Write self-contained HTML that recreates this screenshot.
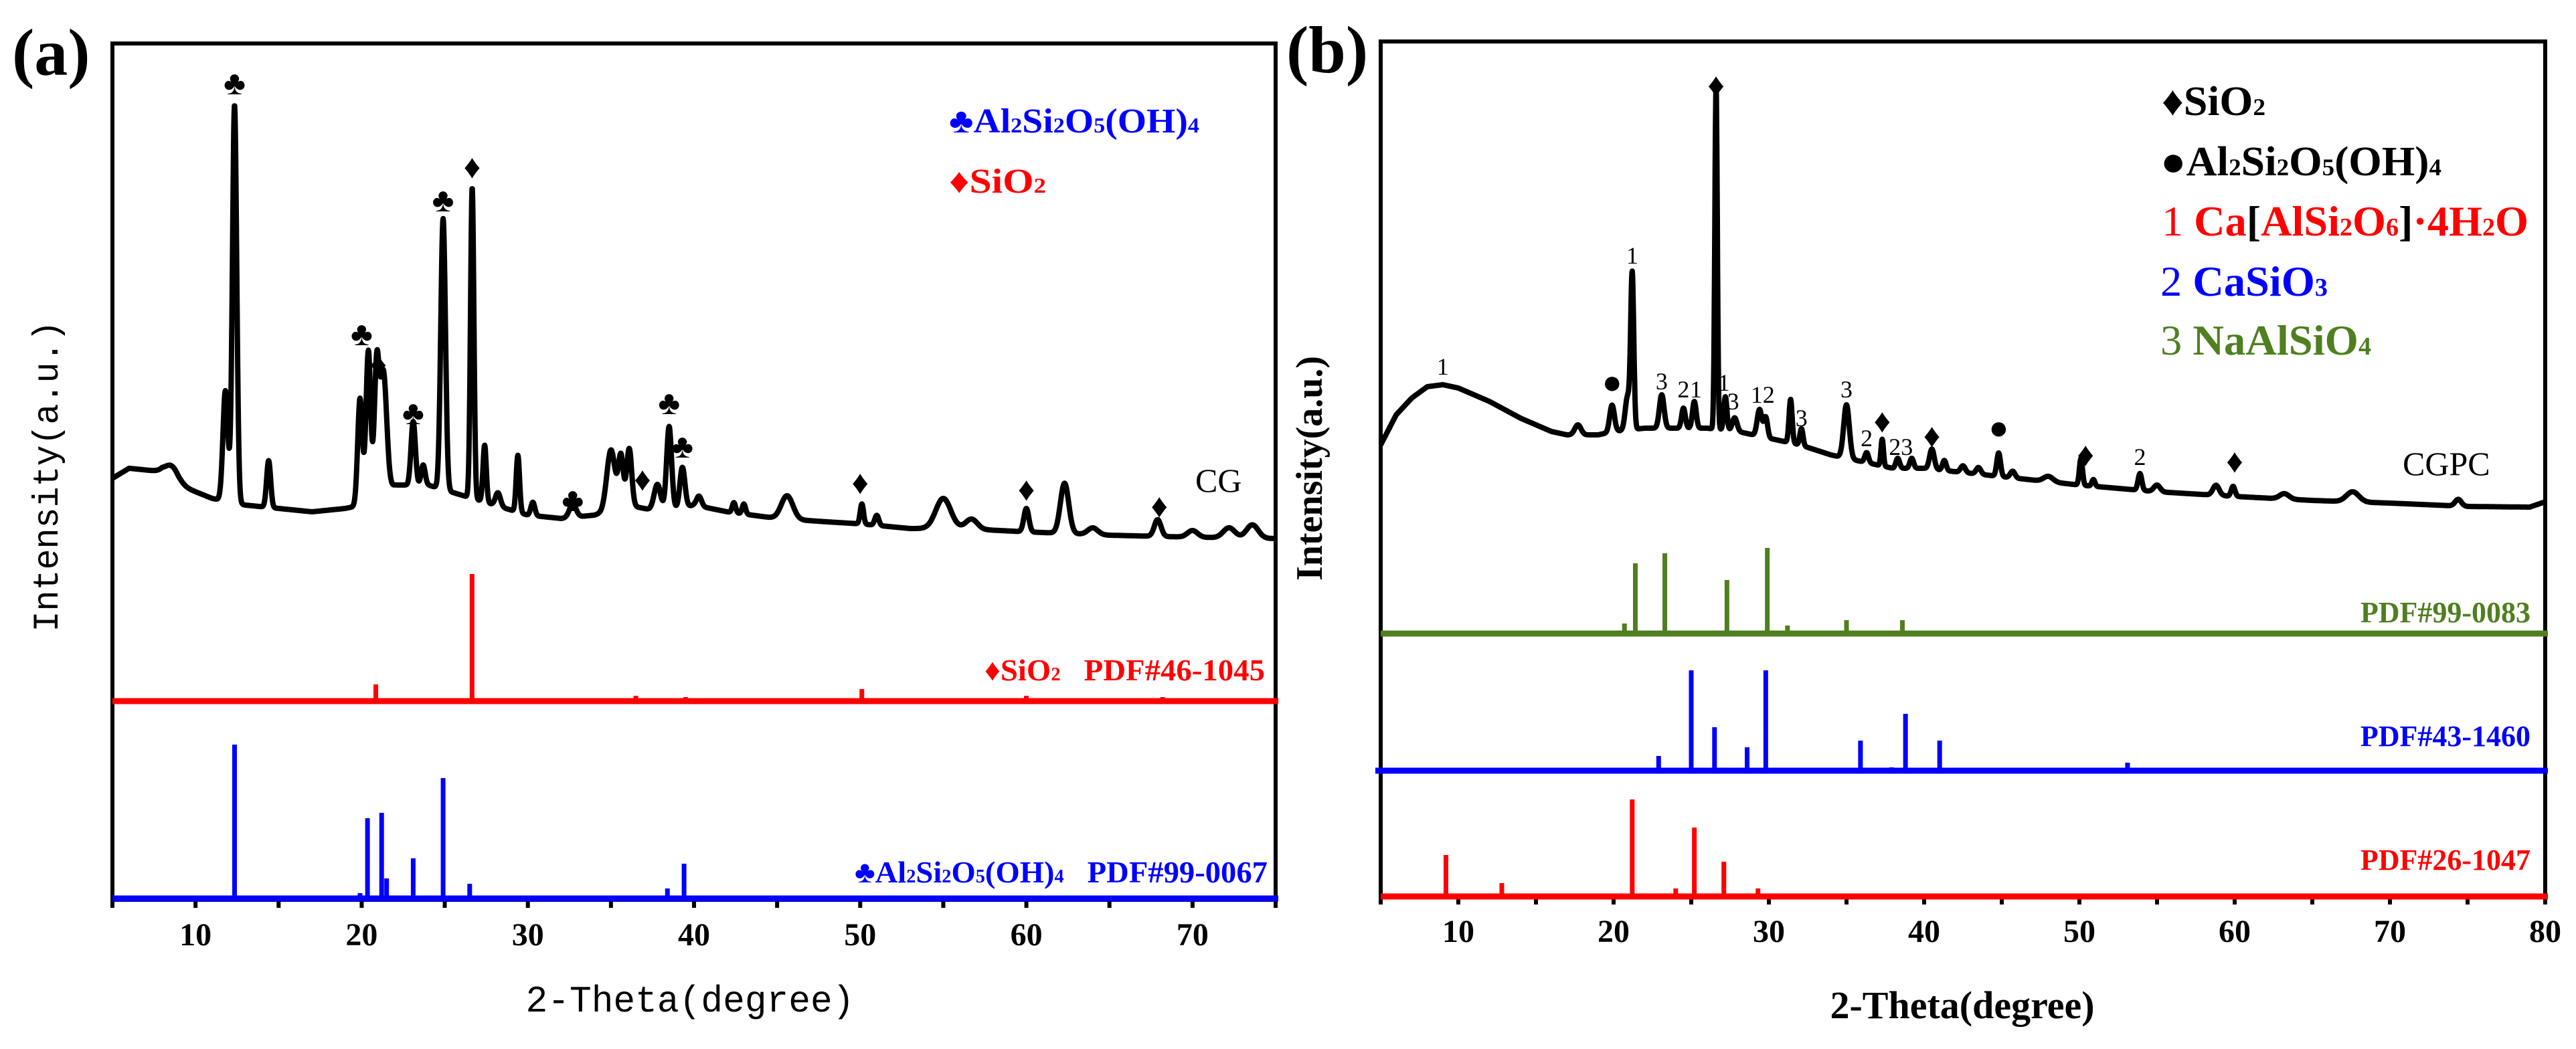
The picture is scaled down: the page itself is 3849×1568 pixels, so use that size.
<!DOCTYPE html>
<html><head><meta charset="utf-8"><style>
html,body{margin:0;padding:0;background:#fff;}
svg{display:block;}
.tk{font-family:"Liberation Serif",serif;font-weight:bold;font-size:48px;}
.bs{font-family:"Liberation Serif",serif;font-weight:bold;}
.sr{font-family:"Liberation Serif",serif;}
.mono{font-family:"Liberation Mono",monospace;}
text{white-space:pre;}
</style></head><body>
<svg id="fig" width="3849" height="1568" viewBox="0 0 3849 1568" xmlns="http://www.w3.org/2000/svg" xml:space="preserve">
<g id="pa"></g>
<g id="pb"></g>
<text x="18" y="112" class="bs" font-size="100">(a)</text>
<text x="1418" y="198" class="bs" font-size="52" fill="#0000ff" textLength="374" lengthAdjust="spacingAndGlyphs">♣Al<tspan font-size="32">2</tspan>Si<tspan font-size="32">2</tspan>O<tspan font-size="32">5</tspan>(OH)<tspan font-size="32">4</tspan></text>
<text x="1418" y="288" class="bs" font-size="52" fill="#ff0000" textLength="145" lengthAdjust="spacingAndGlyphs">♦SiO<tspan font-size="32">2</tspan></text>
<text x="1786" y="735" class="sr" font-size="50">CG</text>
<text x="1471" y="1017" class="bs" font-size="46" fill="#ff0000" textLength="419" lengthAdjust="spacingAndGlyphs">♦SiO<tspan font-size="28">2</tspan>   PDF#46-1045</text>
<text x="1277" y="1319" class="bs" font-size="46" fill="#0000ff" textLength="617" lengthAdjust="spacingAndGlyphs">♣Al<tspan font-size="28">2</tspan>Si<tspan font-size="28">2</tspan>O<tspan font-size="28">5</tspan>(OH)<tspan font-size="28">4</tspan>   PDF#99-0067</text>
<text transform="translate(86,712) rotate(-90)" text-anchor="middle" class="mono" font-size="54" textLength="465" lengthAdjust="spacingAndGlyphs">Intensity(a.u.)</text>
<text x="1031" y="1512" text-anchor="middle" class="mono" font-size="56" textLength="491" lengthAdjust="spacingAndGlyphs">2-Theta(degree)</text>
<text x="1922" y="108" class="bs" font-size="100">(b)</text>
<text x="3230" y="172" class="bs" font-size="62" textLength="155" lengthAdjust="spacingAndGlyphs">♦SiO<tspan font-size="36">2</tspan></text>
<text x="3228" y="262" class="bs" font-size="62" textLength="420" lengthAdjust="spacingAndGlyphs">●Al<tspan font-size="36">2</tspan>Si<tspan font-size="36">2</tspan>O<tspan font-size="36">5</tspan>(OH)<tspan font-size="36">4</tspan></text>
<text x="3230" y="352" font-size="64" fill="#ff0000" textLength="548" lengthAdjust="spacingAndGlyphs"><tspan class="sr">1 </tspan><tspan class="bs">Ca<tspan fill="#000">[</tspan>AlSi<tspan font-size="38">2</tspan>O<tspan font-size="38">6</tspan><tspan fill="#000">]</tspan>·4H<tspan font-size="38">2</tspan>O</tspan></text>
<text x="3228" y="442" font-size="64" fill="#0000ff" textLength="250" lengthAdjust="spacingAndGlyphs"><tspan class="sr">2 </tspan><tspan class="bs">CaSiO<tspan font-size="38">3</tspan></tspan></text>
<text x="3228" y="530" font-size="64" fill="#4f7f1f" textLength="315" lengthAdjust="spacingAndGlyphs"><tspan class="sr">3 </tspan><tspan class="bs">NaAlSiO<tspan font-size="38">4</tspan></tspan></text>
<text x="3590" y="710" class="sr" font-size="50">CGPC</text>
<text x="3781" y="930" text-anchor="end" class="bs" font-size="44" fill="#4f7f1f">PDF#99-0083</text>
<text x="3781" y="1115" text-anchor="end" class="bs" font-size="44" fill="#0000ff">PDF#43-1460</text>
<text x="3781" y="1300" text-anchor="end" class="bs" font-size="44" fill="#ff0000">PDF#26-1047</text>
<text transform="translate(1975,700) rotate(-90)" text-anchor="middle" class="bs" font-size="56">Intensity(a.u.)</text>
<text x="2932" y="1522" text-anchor="middle" class="bs" font-size="58">2-Theta(degree)</text>
</svg>
<script>
const aBgX = [5,6,8,9,10,11,13,15,17,19,20,22,24,26,28,30,32,34,36,38,40,42,45,48,50,53,56,60,65,70,75];
const aBgY = [630,645,640,620,610,600,590,585,580,585,590,620,620,605,590,575,570,575,590,580,590,580,570,565,562,555,555,550,545,542,540];
const aPeakPos = [8.6,11.8,12.35,14.4,19.9,20.4,20.9,21.3,23.1,23.7,24.9,26.65,27.4,28.2,29.4,30.3,32.7,35.0,35.6,36.1,37.8,38.5,39.3,40.3,42.4,43.0,45.6,50.1,51.0,55.0,56.7,60.0,62.3,64.0,67.9,70.0,72.2,73.6];
const aPeakH   = [20,165,595,70,160,225,190,180,95,30,405,465,85,20,85,20,20,90,75,85,40,125,60,15,15,15,35,30,15,45,15,35,75,10,25,10,15,20];
const aPeakW   = [0.4,0.15,0.13,0.12,0.14,0.14,0.14,0.2,0.13,0.12,0.14,0.1,0.1,0.15,0.1,0.12,0.2,0.25,0.15,0.15,0.2,0.15,0.15,0.15,0.1,0.1,0.35,0.1,0.12,0.45,0.35,0.15,0.25,0.3,0.2,0.3,0.35,0.35];
const aRedPos = [20.85,26.64,36.5,39.5,42.4,50.1,60.0,68.2];
const aRedH   = [25,190,8,6,4,18,8,6];
const aBluePos = [12.35,19.9,20.35,21.2,21.5,23.1,24.9,26.5,38.4,39.4];
const aBlueH   = [230,8,120,128,30,60,180,22,15,52];
const aMarks = [[12.35,125,'♣'],[26.65,250,'♦'],[24.9,300,'♣'],[20.0,500,'♣'],[21.0,545,'♦'],[23.1,618,'♣'],[32.7,748,'♣'],[36.9,717,'♦'],[38.5,603,'♣'],[39.3,668,'♣'],[50.0,722,'♦'],[60.0,732,'♦'],[68.0,757,'♦']];
const aTicks = [10,20,30,40,50,60,70];
const aRedBase = 297, aBlueBase = 2;

const bBgX = [5,6,7,8,9,10,12,14,16,17,19,20,22,24,26,28,30,32,34,36,38,40,42,44,46,50,55,60,65,70,75,79,80];
const bBgY = [675,720,745,762,765,760,740,715,695,690,690,695,700,700,700,695,685,675,660,650,640,640,635,630,625,615,605,598,592,588,583,582,590];
const bPeakPos = [17.7,19.9,20.9,21.2,23.1,24.5,25.2,26.6,27.2,27.8,29.4,29.8,31.4,32.1,35.0,36.3,37.3,38.3,39.2,40.5,41.3,42.5,43.5,44.8,45.7,48.0,50.1,50.9,53.9,55.0,58.8,59.9,63.2,67.6,74.4];
const bPeakH   = [15,40,50,230,50,30,40,515,50,20,40,30,65,25,80,15,40,15,15,30,15,10,10,35,10,8,40,10,25,10,15,15,8,15,10];
const bPeakW   = [0.2,0.15,0.15,0.1,0.15,0.12,0.12,0.08,0.1,0.15,0.15,0.12,0.1,0.1,0.18,0.12,0.08,0.12,0.12,0.15,0.12,0.15,0.15,0.12,0.15,0.3,0.1,0.1,0.12,0.2,0.2,0.12,0.3,0.4,0.2];
const bGreenPos = [20.7,21.4,23.3,27.3,29.9,31.2,35.0,38.6];
const bGreenH   = [15,105,120,80,128,12,20,20];
const bBluePos = [22.9,25.0,26.5,28.6,29.8,35.9,37.9,38.8,41.0,53.1];
const bBlueH   = [22,150,65,35,150,45,5,85,45,12];
const bRedPos = [9.2,12.8,21.2,24.0,25.2,27.1,29.3];
const bRedH   = [62,20,145,12,103,52,12];
const bMarks = [[9,548,'1'],[19.9,572,'●'],[21.2,382,'1'],[23.1,570,'3'],[24.5,582,'2'],[25.3,582,'1'],[26.6,128,'♦'],[27.1,572,'1'],[27.7,600,'3'],[29.6,590,'12'],[32.1,625,'3'],[35.0,582,'3'],[37.3,630,'♦'],[36.3,655,'2'],[38.5,668,'23'],[40.5,652,'♦'],[44.8,640,'●'],[50.4,680,'♦'],[53.9,683,'2'],[60.0,690,'♦']];
const bTicks = [10,20,30,40,50,60,70,80];
const bGreenBase = 393, bBlueBase = 188, bRedBase = 0;

const NS='http://www.w3.org/2000/svg';
function mk(parent,tag,attrs){const e=document.createElementNS(NS,tag);for(const k in attrs)e.setAttribute(k,attrs[k]);parent.appendChild(e);return e;}
function interp(xs,ys,x){if(x<=xs[0])return ys[0];for(let i=1;i<xs.length;i++){if(x<=xs[i]){const t=(x-xs[i-1])/(xs[i]-xs[i-1]);return ys[i-1]+t*(ys[i]-ys[i-1]);}}return ys[ys.length-1];}
function curve(bx,by,pp,ph,pw,x){let y=interp(bx,by,x);for(let i=0;i<pp.length;i++){const d=(x-pp[i])/pw[i];if(Math.abs(d)<6)y+=ph[i]*Math.exp(-0.5*d*d);}return y;}

function panel(g,cfg){
  const X=v=>cfg.x0+(v-cfg.xmin)/(cfg.xmax-cfg.xmin)*(cfg.x1-cfg.x0);
  const Y=v=>cfg.yb-v;
  const fr=mk(g,'rect',{x:cfg.x0,y:cfg.yt,width:cfg.x1-cfg.x0,height:cfg.yb-cfg.yt,fill:'none',stroke:'#000','stroke-width':6});
  
  
  for(let v=cfg.xmin;v<=cfg.xmax;v+=5){
    const t=mk(g,'line',{x1:X(v),x2:X(v),y1:cfg.yb,y2:cfg.yb+12,stroke:'#000','stroke-width':6});
    
    
  }
  cfg.ticks.forEach(v=>{
    const t=mk(g,'text',{x:X(v),y:cfg.yb+68,'text-anchor':'middle',class:'tk'});t.textContent=v;
    
    
  });
  cfg.sticks.forEach(s=>{
    s.pos.forEach((p,i)=>{
      const r=mk(g,'rect',{x:X(p)-3.5,y:Y(s.base+s.h[i]),width:7,height:s.h[i],fill:s.color});
      
      
    });
    const bl=mk(g,'line',{x1:cfg.x0-(s.ext||0),x2:cfg.x1+4,y1:Y(s.base),y2:Y(s.base),stroke:s.color,'stroke-width':9});
    
    
  });
  let d='';
  for(let v=cfg.xmin;v<=cfg.xmax+1e-9;v+=0.02){
    const y=curve(cfg.bx,cfg.by,cfg.pp,cfg.ph,cfg.pw,v);
    d+=(d?'L':'M')+X(v).toFixed(1)+','+Y(y).toFixed(1);
  }
  const p=mk(g,'path',{d:d,fill:'none',stroke:'#000','stroke-width':8,'stroke-linejoin':'round'});
  
  
  cfg.marks.forEach(m=>{
    const isNum=/[0-9]/.test(m[2]);
    const t=mk(g,'text',{x:X(m[0]),y:m[1]+(isNum?12:16),'text-anchor':'middle',class:'sr','font-size':isNum?36:50});
    t.textContent=m[2];
    
    
  });
}
panel(document.getElementById('pa'),{x0:168,x1:1906,yt:65,yb:1345,xmin:5,xmax:75,ticks:aTicks,
  bx:aBgX,by:aBgY,pp:aPeakPos,ph:aPeakH,pw:aPeakW,curveName:'cg-pattern',marks:aMarks,
  sticks:[{pos:aRedPos,h:aRedH,base:aRedBase,color:'#ff0000',name:'sio2-ref'},{pos:aBluePos,h:aBlueH,base:aBlueBase,color:'#0000ff',name:'kaolinite-ref'}]});
panel(document.getElementById('pb'),{x0:2063,x1:3803,yt:62,yb:1340,xmin:5,xmax:80,ticks:bTicks,
  bx:bBgX,by:bBgY,pp:bPeakPos,ph:bPeakH,pw:bPeakW,curveName:'cgpc-pattern',marks:bMarks,
  sticks:[{pos:bGreenPos,h:bGreenH,base:bGreenBase,color:'#4f7f1f',name:'naalsio4-ref'},{pos:bBluePos,h:bBlueH,base:bBlueBase,color:'#0000ff',name:'casio3-ref',ext:8},{pos:bRedPos,h:bRedH,base:bRedBase,color:'#ff0000',name:'ca-alsi2o6-ref'}]});
</script>
</body></html>
